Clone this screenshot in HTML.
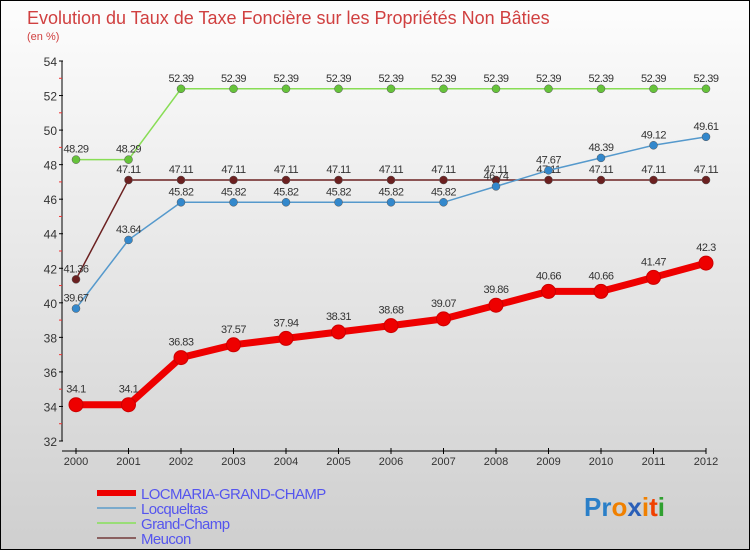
<!DOCTYPE html>
<html><head><meta charset="utf-8"><style>
html,body{margin:0;padding:0}
body{width:750px;height:550px;overflow:hidden;font-family:"Liberation Sans",sans-serif}
#wrap{position:relative;width:748px;height:548px;border:1px solid #000;background:linear-gradient(#fdfdfd,#cfcfcf)}
</style></head><body>
<div id="wrap">
<svg id="chart" width="748" height="548" style="position:absolute;left:0;top:0">
<text x="26" y="23" font-size="18" fill="#d04040">Evolution du Taux de Taxe Foncière sur les Propriétés Non Bâties</text>
<text x="26" y="39" font-size="11" fill="#d04040">(en %)</text>
<g id="axes"></g><g id="series"></g><g id="legend"></g>
<text x="583" y="515" font-size="26" font-weight="bold"><tspan fill="#2a7fc8">Pr</tspan><tspan fill="#f08000">o</tspan><tspan fill="#2a5fb8">x</tspan><tspan fill="#f08000">i</tspan><tspan fill="#f04000">t</tspan><tspan fill="#30a030">i</tspan></text>
</svg>
</div>
<script>
const years=[2000,2001,2002,2003,2004,2005,2006,2007,2008,2009,2010,2011,2012];
const yTicks=[32,34,36,38,40,42,44,46,48,50,52,54];
const locmaria=[34.1,34.1,36.83,37.57,37.94,38.31,38.68,39.07,39.86,40.66,40.66,41.47,42.3];
const locqueltas=[39.67,43.64,45.82,45.82,45.82,45.82,45.82,45.82,46.74,47.67,48.39,49.12,49.61];
const grandChamp=[48.29,48.29,52.39,52.39,52.39,52.39,52.39,52.39,52.39,52.39,52.39,52.39,52.39];
const meucon=[41.36,47.11,47.11,47.11,47.11,47.11,47.11,47.11,47.11,47.11,47.11,47.11,47.11];
const seriesNames=["LOCMARIA-GRAND-CHAMP","Locqueltas","Grand-Champ","Meucon"];
const NS="http://www.w3.org/2000/svg";
const X0=75,X1=705,YT=60,YB=440,VMIN=32,VMAX=54;
const xs=i=>X0+(X1-X0)*i/(years.length-1);
const ys=v=>YB-(v-VMIN)*(YB-YT)/(VMAX-VMIN);
function mk(tag,attrs,parent){const e=document.createElementNS(NS,tag);for(const k in attrs)e.setAttribute(k,attrs[k]);parent.appendChild(e);return e;}
const axes=document.getElementById('axes');
let e=mk('line',{x1:61,y1:YT,x2:61,y2:YB,stroke:'#000','stroke-width':1},axes);


e=mk('line',{x1:61,y1:YB+10,x2:X1,y2:YB+10,stroke:'#000','stroke-width':1},axes);


yTicks.forEach((t,i)=>{
  mk('line',{x1:58,y1:ys(t),x2:62,y2:ys(t),stroke:'#000'},axes);
  if(i<yTicks.length-1) mk('line',{x1:58,y1:ys(t+1),x2:61,y2:ys(t+1),stroke:'#e33'},axes);
  const tx=mk('text',{x:56,y:ys(t)+5,'font-size':12,'text-anchor':'end',fill:'#333'},axes);
  tx.textContent=t;
  
  
});
years.forEach((yr,i)=>{
  mk('line',{x1:xs(i),y1:YB+7,x2:xs(i),y2:YB+13,stroke:'#000'},axes);
  const tx=mk('text',{x:xs(i),y:YB+24,'font-size':11,'text-anchor':'middle',fill:'#333'},axes);
  tx.textContent=yr;
  
  
});
const defs=[[grandChamp,'#88dd55','#66c33a',1.5,4,'grand-champ'],[meucon,'#6b2020','#6b2020',1.5,4,'meucon'],[locqueltas,'#5599cc','#3388cc',1.5,4,'locqueltas'],[locmaria,'#ee0000','#ee0000',7,7,'locmaria']];
const sg=document.getElementById('series');
defs.forEach(([d,lc,pc,w,r,nm])=>{
  const p=mk('polyline',{points:d.map((v,i)=>xs(i)+','+ys(v)).join(' '),fill:'none',stroke:lc,'stroke-width':w},sg);
  
  
  d.forEach((v,i)=>{
    const c=mk('circle',{cx:xs(i),cy:ys(v),r:r,fill:pc,stroke:nm=='locmaria'?'#cc0000':'#555','stroke-width':nm=='locmaria'?1:0.5},sg);
    
    
    const t=mk('text',{x:xs(i),y:ys(v)-(nm=='locmaria'?12:7),'font-size':11,'text-anchor':'middle',fill:'#333','letter-spacing':'-0.5'},sg);
    t.textContent=v;
    
    
  });
});
const lg=document.getElementById('legend');
const lcols=['#ee0000','#7aaacc','#99dd77','#8a6060'];
const lw=[6,2,2,2];
seriesNames.forEach((n,i)=>{
  const y=492+i*15;
  mk('line',{x1:96,y1:y,x2:135,y2:y,stroke:lcols[i],'stroke-width':lw[i]},lg);
  const t=mk('text',{x:140,y:y+6,'font-size':15,fill:'#5555ee','letter-spacing':'-0.6'},lg);
  t.textContent=n;
  
  
});
</script>
</body></html>
